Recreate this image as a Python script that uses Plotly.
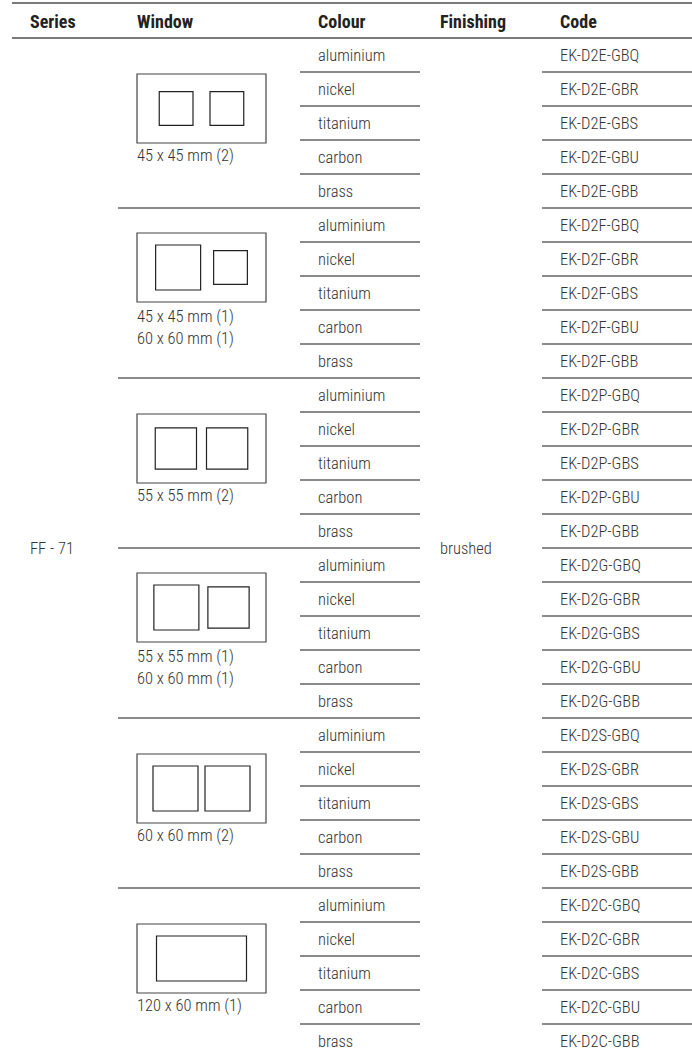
import plotly.graph_objects as go

# ---------------- data ----------------
headers = ["Series", "Window", "Colour", "Finishing", "Code"]
series_name = "FF - 71"
finishing = "brushed"
window_labels = [
    "45 x 45 mm (2)",
    "45 x 45 mm (1)<br>60 x 60 mm (1)",
    "55 x 55 mm (2)",
    "55 x 55 mm (1)<br>60 x 60 mm (1)",
    "60 x 60 mm (2)",
    "120 x 60 mm (1)",
]
# openings (width mm, height mm) drawn in each window frame, left to right
window_openings = [
    [(45, 45), (45, 45)],
    [(60, 60), (45, 45)],
    [(55, 55), (55, 55)],
    [(60, 60), (55, 55)],
    [(60, 60), (60, 60)],
    [(120, 60)],
]
colours = ["aluminium", "nickel", "titanium", "carbon", "brass"]
codes = [
    ["EK-D2E-GBQ", "EK-D2E-GBR", "EK-D2E-GBS", "EK-D2E-GBU", "EK-D2E-GBB"],
    ["EK-D2F-GBQ", "EK-D2F-GBR", "EK-D2F-GBS", "EK-D2F-GBU", "EK-D2F-GBB"],
    ["EK-D2P-GBQ", "EK-D2P-GBR", "EK-D2P-GBS", "EK-D2P-GBU", "EK-D2P-GBB"],
    ["EK-D2G-GBQ", "EK-D2G-GBR", "EK-D2G-GBS", "EK-D2G-GBU", "EK-D2G-GBB"],
    ["EK-D2S-GBQ", "EK-D2S-GBR", "EK-D2S-GBS", "EK-D2S-GBU", "EK-D2S-GBB"],
    ["EK-D2C-GBQ", "EK-D2C-GBR", "EK-D2C-GBS", "EK-D2C-GBU", "EK-D2C-GBB"],
]

# ---------------- layout geometry ----------------
W, H = 692, 1057
HEAD_TOP = 3
HEAD_BOT = 38
ROW_H = 34
N_PER = len(colours)
GROUP_H = ROW_H * N_PER
TEXT_DY = 2
col_x = {"Series": 30, "Window": 137, "Colour": 318, "Finishing": 440, "Code": 560}
LINE_COL = "#8a8a8a"
TEXT_COL = "#333333"
FONT_BODY = "Roboto Condensed, DejaVu Sans Condensed, Liberation Sans Narrow, Roboto, sans-serif"
BODY_SIZE = 16.5
BODY_WEIGHT = 300
PX_PER_MM = 0.75
GAPS = [17, 13, 10, 9, 7, 0]

def row_y(i):
    return HEAD_BOT + ROW_H * (i + 0.5) + TEXT_DY

fig = go.Figure()

# header
fig.add_trace(go.Scatter(
    x=[col_x[h] for h in headers], y=[23] * len(headers), text=headers,
    mode="text", textposition="middle right",
    textfont=dict(family=FONT_BODY, size=18, color="#222222", weight=700),
    hoverinfo="skip", showlegend=False))

# colour and code cells
cx, cy, ct, kx, ky, kt = [], [], [], [], [], []
for g, grp in enumerate(codes):
    for k, code in enumerate(grp):
        i = g * N_PER + k
        cx.append(col_x["Colour"]); cy.append(row_y(i)); ct.append(colours[k])
        kx.append(col_x["Code"]); ky.append(row_y(i)); kt.append(code)
for xs, ys, ts in [(cx, cy, ct), (kx, ky, kt)]:
    fig.add_trace(go.Scatter(
        x=xs, y=ys, text=ts, mode="text", textposition="middle right",
        textfont=dict(family=FONT_BODY, size=BODY_SIZE, color=TEXT_COL, weight=BODY_WEIGHT),
        hoverinfo="skip", showlegend=False))

# merged series / finishing cells
mid = HEAD_BOT + GROUP_H * len(codes) / 2 + TEXT_DY
fig.add_trace(go.Scatter(
    x=[col_x["Series"], col_x["Finishing"]], y=[mid, mid], text=[series_name, finishing],
    mode="text", textposition="middle right",
    textfont=dict(family=FONT_BODY, size=BODY_SIZE, color=TEXT_COL, weight=BODY_WEIGHT),
    hoverinfo="skip", showlegend=False))

# window labels
wx, wy = [], []
for g, lab in enumerate(window_labels):
    top = HEAD_BOT + g * GROUP_H
    two = "<br>" in lab
    wx.append(col_x["Window"])
    wy.append(top + (121 if two else 119))
fig.add_trace(go.Scatter(
    x=wx, y=wy, text=window_labels, mode="text", textposition="middle right",
    textfont=dict(family=FONT_BODY, size=BODY_SIZE, color=TEXT_COL, weight=BODY_WEIGHT),
    hoverinfo="skip", showlegend=False))

shapes = []
def hline(x0, x1, y, w=2, c=LINE_COL):
    shapes.append(dict(type="line", x0=x0, x1=x1, y0=y, y1=y, xref="x", yref="y",
                       line=dict(color=c, width=w)))

hline(12, W, HEAD_TOP, 2, "#7a7a7a")
hline(12, W, HEAD_BOT, 2, "#7a7a7a")
n_rows = len(codes) * N_PER
for i in range(1, n_rows):
    y = HEAD_BOT + ROW_H * i
    if i % N_PER == 0:
        hline(118, 420, y)
    else:
        hline(300, 420, y)
    hline(542, W, y)

# window drawings
FR_X0, FR_X1, FR_H = 137, 266, 69
for g, ops in enumerate(window_openings):
    top = HEAD_BOT + g * GROUP_H
    two = "<br>" in window_labels[g]
    fy0 = top + (25 if two else 36)
    fy1 = fy0 + FR_H
    shapes.append(dict(type="rect", x0=FR_X0, x1=FR_X1, y0=fy0, y1=fy1,
                       line=dict(color="#444444", width=1.2)))
    widths = [w * PX_PER_MM for w, h in ops]
    total = sum(widths) + GAPS[g] * (len(ops) - 1)
    x = (FR_X0 + FR_X1) / 2 - total / 2
    ymid = (fy0 + fy1) / 2
    for (w, h), pw in zip(ops, widths):
        ph = h * PX_PER_MM
        shapes.append(dict(type="rect", x0=x, x1=x + pw, y0=ymid - ph / 2, y1=ymid + ph / 2,
                           line=dict(color="#222222", width=1.2)))
        x += pw + GAPS[g]

fig.update_layout(
    width=W, height=H, margin=dict(l=0, r=0, t=0, b=0),
    paper_bgcolor="white", plot_bgcolor="white",
    xaxis=dict(range=[0, W], visible=False, fixedrange=True),
    yaxis=dict(range=[H, 0], visible=False, fixedrange=True),
    shapes=shapes, showlegend=False,
)
fig.write_html("out.html", config={"displayModeBar": False},
               post_script="document.body.style.margin='0';")
